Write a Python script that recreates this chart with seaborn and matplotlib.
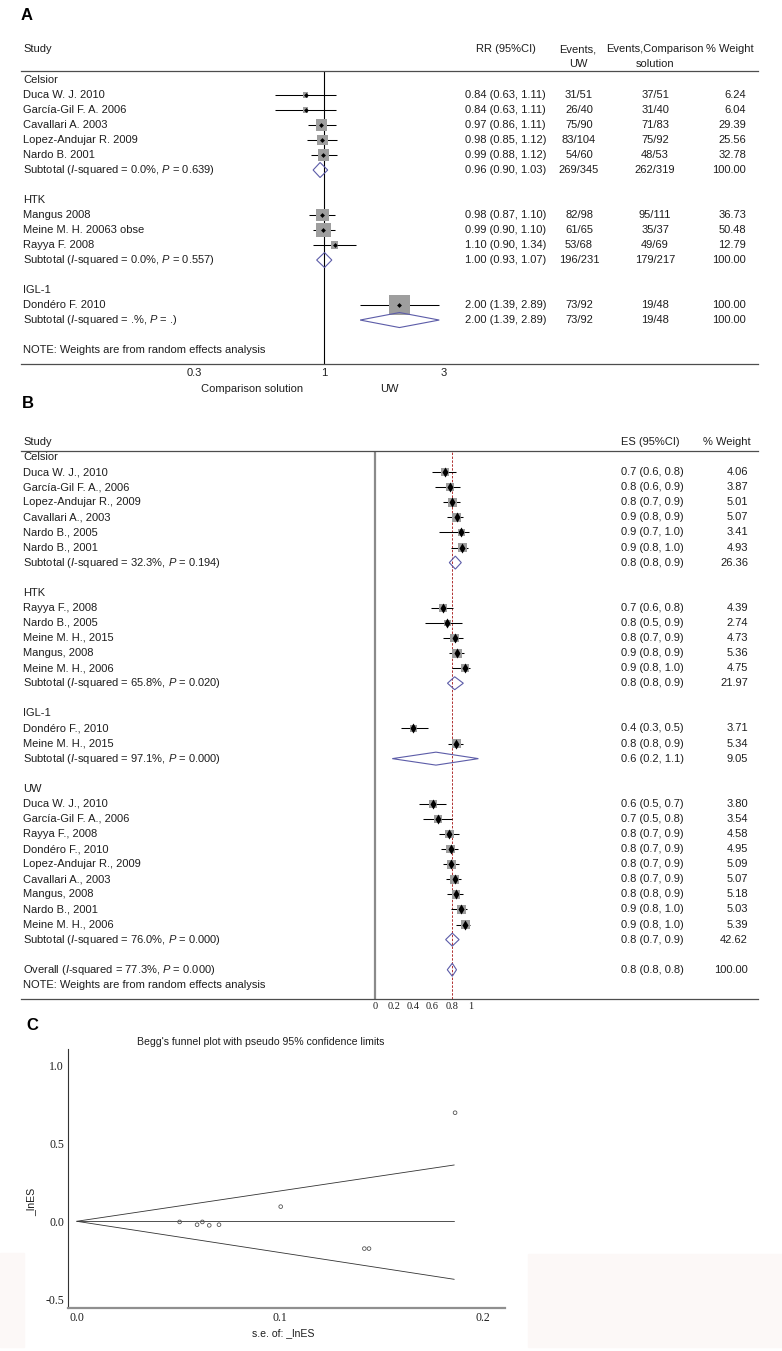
import numpy as np
import pandas as pd
import matplotlib
matplotlib.use('Agg')
import matplotlib.pyplot as plt
import matplotlib.transforms as mtrans
from matplotlib.patches import Polygon, Rectangle
from matplotlib.ticker import NullLocator
import seaborn as sns

# ---------------- Panel A: RR, UW vs comparison solution ----------------
A_GROUPS = ['Celsior', 'HTK', 'IGL-1']
A_STUDY = ['Duca W. J. 2010', 'García-Gil F. A. 2006', 'Cavallari A. 2003',
           'Lopez-Andujar R. 2009', 'Nardo B. 2001',
           'Mangus 2008', 'Meine M. H. 20063 obse', 'Rayya F. 2008',
           'Dondéro F. 2010']
A_STUDY_GROUP = ['Celsior'] * 5 + ['HTK'] * 3 + ['IGL-1']
A_RR = [0.84, 0.84, 0.97, 0.98, 0.99, 0.98, 0.99, 1.10, 2.00]
A_LO = [0.63, 0.63, 0.86, 0.85, 0.88, 0.87, 0.90, 0.90, 1.39]
A_HI = [1.11, 1.11, 1.11, 1.12, 1.12, 1.10, 1.10, 1.34, 2.89]
A_EV_UW = ['31/51', '26/40', '75/90', '83/104', '54/60', '82/98', '61/65', '53/68', '73/92']
A_EV_CS = ['37/51', '31/40', '71/83', '75/92', '48/53', '95/111', '35/37', '49/69', '19/48']
A_WT = [6.24, 6.04, 29.39, 25.56, 32.78, 36.73, 50.48, 12.79, 100.00]
A_SUB_I2 = ['0.0', '0.0', '.']
A_SUB_P = ['0.639', '0.557', '.']
A_SUB_RR = [0.96, 1.00, 2.00]
A_SUB_LO = [0.90, 0.93, 1.39]
A_SUB_HI = [1.03, 1.07, 2.89]
A_SUB_EV_UW = ['269/345', '196/231', '73/92']
A_SUB_EV_CS = ['262/319', '179/217', '19/48']
A_SUB_WT = [100.00, 100.00, 100.00]
A_TICKS = [0.3, 1, 3]

# ---------------- Panel B: ES by solution ----------------
B_GROUPS = ['Celsior', 'HTK', 'IGL-1', 'UW']
B_STUDY = ['Duca W. J., 2010', 'García-Gil F. A., 2006', 'Lopez-Andujar R., 2009',
           'Cavallari A., 2003', 'Nardo B., 2005', 'Nardo B., 2001',
           'Rayya F., 2008', 'Nardo B., 2005', 'Meine M. H., 2015', 'Mangus, 2008',
           'Meine M. H., 2006',
           'Dondéro F., 2010', 'Meine M. H., 2015',
           'Duca W. J., 2010', 'García-Gil F. A., 2006', 'Rayya F., 2008',
           'Dondéro F., 2010', 'Lopez-Andujar R., 2009', 'Cavallari A., 2003',
           'Mangus, 2008', 'Nardo B., 2001', 'Meine M. H., 2006']
B_STUDY_GROUP = ['Celsior'] * 6 + ['HTK'] * 5 + ['IGL-1'] * 2 + ['UW'] * 9
B_ES = [0.729, 0.778, 0.805, 0.851, 0.899, 0.910,
        0.705, 0.755, 0.830, 0.854, 0.937,
        0.399, 0.847,
        0.601, 0.656, 0.774, 0.788, 0.795, 0.830, 0.844, 0.900, 0.941]
B_LO = [0.590, 0.626, 0.712, 0.753, 0.670, 0.790,
        0.583, 0.521, 0.712, 0.767, 0.802,
        0.268, 0.760,
        0.462, 0.500, 0.667, 0.688, 0.708, 0.736, 0.753, 0.790, 0.840]
B_HI = [0.844, 0.885, 0.885, 0.920, 0.983, 0.965,
        0.809, 0.903, 0.913, 0.927, 0.990,
        0.549, 0.913,
        0.736, 0.799, 0.876, 0.868, 0.876, 0.896, 0.913, 0.962, 0.990]
B_WT = [4.06, 3.87, 5.01, 5.07, 3.41, 4.93,
        4.39, 2.74, 4.73, 5.36, 4.75,
        3.71, 5.34,
        3.80, 3.54, 4.58, 4.95, 5.09, 5.07, 5.18, 5.03, 5.39]
B_SUB_I2 = ['32.3', '65.8', '97.1', '76.0']
B_SUB_P = ['0.194', '0.020', '0.000', '0.000']
B_SUB_ES = [0.837, 0.830, 0.635, 0.805]
B_SUB_LO = [0.774, 0.755, 0.180, 0.736]
B_SUB_HI = [0.899, 0.920, 1.077, 0.876]
B_SUB_WT = [26.36, 21.97, 9.05, 42.62]
B_OVERALL = dict(i2='77.3', p='0.000', es=0.805, lo=0.753, hi=0.849, wt=100.00)
B_TICKS = [0, 0.2, 0.4, 0.6, 0.8, 1]
B_TICKLABELS = ['0', '0.2', '0.4', '0.6', '0.8', '1']

# ---------------- Panel C: Begg's funnel plot ----------------
C_SE = [0.0507, 0.0593, 0.0619, 0.0653, 0.0701, 0.1005, 0.1417, 0.1440, 0.1864]
C_LNES = [-0.004, -0.022, -0.004, -0.026, -0.022, 0.094, -0.175, -0.175, 0.696]
C_LIMIT_SE = [0.0, 0.186]
C_UPPER = [0.0, 0.361]
C_LOWER = [0.0, -0.372]
C_POOLED = [0.0, 0.0]
C_XTICKS = [0.0, 0.1, 0.2]
C_YTICKS = [-0.5, 0.0, 0.5, 1.0]

# ---------------- style ----------------
sns.set_theme(style='white')
plt.rcParams['font.family'] = ['Liberation Sans', 'DejaVu Sans']
plt.rcParams['mathtext.fontset'] = 'custom'
plt.rcParams['mathtext.rm'] = 'Liberation Sans'
plt.rcParams['mathtext.it'] = 'Liberation Sans:italic'

TXT = '#1e1e1e'
RULE = '#4d4d4d'
BOX = '#9e9e9e'
DIAMOND = '#5c5ca8'
FS = 8

W, H = 782, 1351
fig = plt.figure(figsize=(W / 100, H / 100), dpi=100)


def fx(px):
    return px / W


def fy(py):
    return 1 - py / H


def px_axes(x0, y0, x1, y1):
    ax = fig.add_axes([x0 / W, 1 - y1 / H, (x1 - x0) / W, (y1 - y0) / H])
    ax.set_facecolor('none')
    return ax


def build_rows(groups, study_group):
    # group header, its studies, subtotal, then a blank line
    group_row, study_row, sub_row = [], [], []
    r = 0
    for g in groups:
        group_row.append(r)
        r += 1
        for sg in study_group:
            if sg == g:
                study_row.append(r)
                r += 1
        sub_row.append(r)
        r += 2
    return group_row, study_row, sub_row, r


def draw_marks(ax, est, lo, hi, wt, rows, k_box, dot_marker, dot_size):
    df = pd.DataFrame({'est': est, 'lo': lo, 'hi': hi, 'wt': wt, 'row': rows})
    ax.hlines(df['row'], df['lo'], df['hi'], color='black', lw=0.75, zorder=2)
    wmin, wmax = df['wt'].min(), df['wt'].max()
    sns.scatterplot(data=df, x='est', y='row', size='wt',
                    sizes=(k_box * wmin, k_box * wmax), size_norm=(wmin, wmax),
                    marker='s', color=BOX, linewidth=0, legend=False, ax=ax, zorder=3)
    sns.scatterplot(data=df, x='est', y='row', marker=dot_marker, s=dot_size,
                    color='black', linewidth=0, legend=False, ax=ax, zorder=4)
    ax.set_xlabel('')
    ax.set_ylabel('')


def draw_diamonds(ax, est, lo, hi, rows, half):
    for e, l, h, r in zip(est, lo, hi, rows):
        ax.add_patch(Polygon([(l, r), (e, r - half), (h, r), (e, r + half)], closed=True,
                             fill=False, edgecolor=DIAMOND, lw=0.8, zorder=3))


def frame_rules(ax):
    for side in ['left', 'right']:
        ax.spines[side].set_visible(False)
    for side in ['top', 'bottom']:
        ax.spines[side].set_color(RULE)
        ax.spines[side].set_linewidth(0.9)
    ax.set_yticks([])


# ================= Panel A =================
axA = px_axes(21, 71, 758, 364)
axA.set_xscale('log')
a_grp_row, a_std_row, a_sub_row, a_note_row = build_rows(A_GROUPS, A_STUDY_GROUP)
draw_marks(axA, A_RR, A_LO, A_HI, A_WT, a_std_row, 2.2, 'D', 6)
draw_diamonds(axA, A_SUB_RR, A_SUB_LO, A_SUB_HI, a_sub_row, 0.5)
axA.axvline(1, color='black', lw=0.8, zorder=1)
axA.set_xlim(10 ** ((21 - 324.5) / 249), 10 ** ((758 - 324.5) / 249))
axA.set_ylim(18.93, -0.6)
frame_rules(axA)
axA.set_xticks(A_TICKS)
axA.set_xticklabels([str(t) for t in A_TICKS])
axA.xaxis.set_minor_locator(NullLocator())
axA.tick_params(axis='x', length=0, pad=3, labelsize=FS, labelcolor=TXT)

tA = mtrans.blended_transform_factory(fig.transFigure, axA.transData)
kwA = dict(transform=tA, va='center', fontsize=FS, color=TXT)
axA.text(fx(23), -2.05, 'Study', ha='left', **kwA)
axA.text(fx(505.5), -2.05, 'RR (95%CI)', ha='center', **kwA)
axA.text(fx(578), -2.05, 'Events,', ha='center', **kwA)
axA.text(fx(578), -1.05, 'UW', ha='center', **kwA)
axA.text(fx(655), -2.05, 'Events,Comparison', ha='center', **kwA)
axA.text(fx(655), -1.05, 'solution', ha='center', **kwA)
axA.text(fx(730), -2.05, '% Weight', ha='center', **kwA)
for g, r in zip(A_GROUPS, a_grp_row):
    axA.text(fx(23), r, g, ha='left', **kwA)
for i, r in enumerate(a_std_row):
    axA.text(fx(23), r, A_STUDY[i], ha='left', **kwA)
    axA.text(fx(465.5), r, f'{A_RR[i]:.2f} ({A_LO[i]:.2f}, {A_HI[i]:.2f})', ha='left', **kwA)
    axA.text(fx(579), r, A_EV_UW[i], ha='center', **kwA)
    axA.text(fx(655), r, A_EV_CS[i], ha='center', **kwA)
    axA.text(fx(746), r, f'{A_WT[i]:.2f}', ha='right', **kwA)
for j, r in enumerate(a_sub_row):
    axA.text(fx(23), r, f'Subtotal ($I$-squared = {A_SUB_I2[j]}%, $P$ = {A_SUB_P[j]})', ha='left', **kwA)
    axA.text(fx(465.5), r, f'{A_SUB_RR[j]:.2f} ({A_SUB_LO[j]:.2f}, {A_SUB_HI[j]:.2f})', ha='left', **kwA)
    axA.text(fx(579), r, A_SUB_EV_UW[j], ha='center', **kwA)
    axA.text(fx(655), r, A_SUB_EV_CS[j], ha='center', **kwA)
    axA.text(fx(746), r, f'{A_SUB_WT[j]:.2f}', ha='right', **kwA)
axA.text(fx(23), a_note_row, 'NOTE: Weights are from random effects analysis', ha='left', **kwA)
fig.text(fx(252), fy(389), 'Comparison solution', ha='center', va='center', fontsize=FS, color=TXT)
fig.text(fx(389), fy(389), 'UW', ha='center', va='center', fontsize=FS, color=TXT)
fig.text(fx(21), fy(16), 'A', ha='left', va='center', fontsize=12, fontweight='bold', color='black')

# ================= Panel B =================
axB = px_axes(21, 450.7, 758, 999)
b_grp_row, b_std_row, b_sub_row, b_over_row = build_rows(B_GROUPS, B_STUDY_GROUP)
draw_marks(axB, B_ES, B_LO, B_HI, B_WT, b_std_row, 8.0, 'd', 26)
draw_diamonds(axB, B_SUB_ES + [B_OVERALL['es']], B_SUB_LO + [B_OVERALL['lo']],
              B_SUB_HI + [B_OVERALL['hi']], b_sub_row + [b_over_row], 0.43)
axB.axvline(0, color='#8a8a8a', lw=1.6, zorder=1)
axB.axvline(B_OVERALL['es'], color='#b03030', lw=0.7, ls=(0, (2.5, 1.5)), zorder=1)
axB.set_xlim((21 - 375) / 96, (758 - 375) / 96)
axB.set_ylim(35.94, -0.42)
frame_rules(axB)
axB.set_xticks(B_TICKS)
axB.set_xticklabels(B_TICKLABELS)
axB.tick_params(axis='x', direction='in', length=3, width=0.6, color=RULE, pad=2,
                labelsize=7.5, labelcolor=TXT, labelfontfamily='Liberation Serif')

tB = mtrans.blended_transform_factory(fig.transFigure, axB.transData)
kwB = dict(transform=tB, va='center', fontsize=FS, color=TXT)
axB.text(fx(23), -1, 'Study', ha='left', **kwB)
axB.text(fx(650), -1, 'ES (95%CI)', ha='center', **kwB)
axB.text(fx(727), -1, '% Weight', ha='center', **kwB)
for g, r in zip(B_GROUPS, b_grp_row):
    axB.text(fx(23), r, g, ha='left', **kwB)
for i, r in enumerate(b_std_row):
    axB.text(fx(23), r, B_STUDY[i], ha='left', **kwB)
    axB.text(fx(621), r, f'{B_ES[i]:.1f} ({B_LO[i]:.1f}, {B_HI[i]:.1f})', ha='left', **kwB)
    axB.text(fx(748), r, f'{B_WT[i]:.2f}', ha='right', **kwB)
for j, r in enumerate(b_sub_row):
    axB.text(fx(23), r, f'Subtotal ($I$-squared = {B_SUB_I2[j]}%, $P$ = {B_SUB_P[j]})', ha='left', **kwB)
    axB.text(fx(621), r, f'{B_SUB_ES[j]:.1f} ({B_SUB_LO[j]:.1f}, {B_SUB_HI[j]:.1f})', ha='left', **kwB)
    axB.text(fx(748), r, f'{B_SUB_WT[j]:.2f}', ha='right', **kwB)
o = B_OVERALL
axB.text(fx(23), b_over_row, f'Overall ($I$-squared = {o["i2"]}%, $P$ = {o["p"]})', ha='left', **kwB)
axB.text(fx(621), b_over_row, f'{o["es"]:.1f} ({o["lo"]:.1f}, {o["hi"]:.1f})', ha='left', **kwB)
axB.text(fx(748), b_over_row, f'{o["wt"]:.2f}', ha='right', **kwB)
axB.text(fx(23), b_over_row + 1, 'NOTE: Weights are from random effects analysis', ha='left', **kwB)
fig.text(fx(22), fy(404), 'B', ha='left', va='center', fontsize=12, fontweight='bold', color='black')

# ================= Panel C =================
axC = px_axes(68.3, 1049, 505, 1307.7)
for yy in [C_UPPER, C_LOWER, C_POOLED]:
    sns.lineplot(x=C_LIMIT_SE, y=yy, color='#333333', lw=0.6, estimator=None, ax=axC)
sns.scatterplot(x=C_SE, y=C_LNES, marker='o', s=7, facecolor='none', edgecolor='#555555',
                linewidth=0.6, ax=axC, zorder=3)
axC.set_xlim(-0.00414, 0.211)
axC.set_ylim(-0.554, 1.1045)
axC.spines['top'].set_visible(False)
axC.spines['right'].set_visible(False)
axC.spines['left'].set_color('#333333')
axC.spines['left'].set_linewidth(0.8)
axC.spines['bottom'].set_color('#8f8f8f')
axC.spines['bottom'].set_linewidth(1.6)
axC.set_xticks(C_XTICKS)
axC.set_xticklabels([f'{v:.1f}' for v in C_XTICKS])
axC.set_yticks(C_YTICKS)
axC.set_yticklabels([f'{v:.1f}' for v in C_YTICKS])
axC.tick_params(direction='in', length=3.5, width=0.6, color='#333333', pad=3,
                labelsize=8.5, labelcolor=TXT, labelfontfamily='Liberation Serif')
axC.set_xlabel('')
axC.set_ylabel('')
fig.text(fx(261), fy(1042.3), "Begg's funnel plot with pseudo 95% confidence limits",
         ha='center', va='center', fontsize=7.6, color=TXT)
fig.text(fx(283.3), fy(1333), 's.e. of: _lnES', ha='center', va='center', fontsize=7.6, color=TXT)
fig.text(fx(31.7), fy(1201.7), '_lnES', ha='center', va='center', rotation=90, fontsize=7.6, color=TXT)
fig.text(fx(26), fy(1026), 'C', ha='left', va='center', fontsize=12, fontweight='bold', color='black')

# faint scan background patches at the bottom
fig.add_artist(Rectangle((fx(528), fy(1347)), (782 - 528) / W, (1347 - 1254) / H,
                         transform=fig.transFigure, color='#fcf8f7', zorder=-1))
fig.add_artist(Rectangle((0, fy(1347)), 24 / W, (1347 - 1253) / H,
                         transform=fig.transFigure, color='#fcf8f7', zorder=-1))

fig.savefig('out.png', dpi=100)
